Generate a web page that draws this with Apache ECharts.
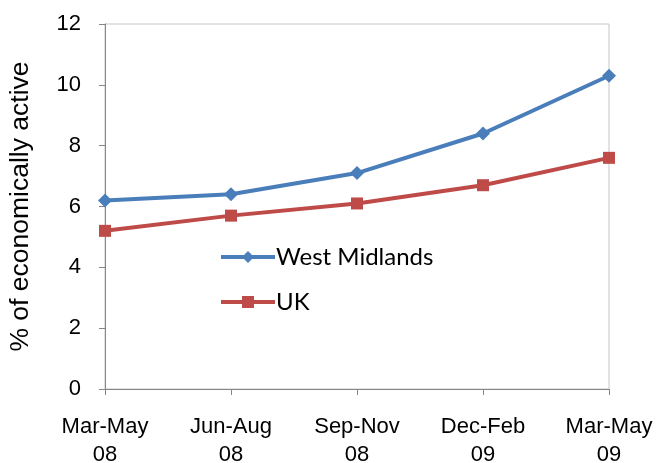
<!DOCTYPE html>
<html>
<head>
<meta charset="UTF-8">
<title></title>
<style>
html, body { margin: 0; padding: 0; background: #fff; }
#myChart { width: 663px; height: 463px; }
</style>
</head>
<body>
<div id="myChart"></div>
<script src="https://cdn.jsdelivr.net/npm/echarts@6/dist/echarts.min.js"></script>
<script>
var categories = ['Mar-May\n08', 'Jun-Aug\n08', 'Sep-Nov\n08', 'Dec-Feb\n09', 'Mar-May\n09'];
var westMidlands = [6.2, 6.4, 7.1, 8.4, 10.3];
var uk = [5.2, 5.7, 6.1, 6.7, 7.6];

var myChart = echarts.init(document.getElementById('myChart'));

myChart.setOption({
	animation: false,
	grid: {
		left: 105,
		right: 54,
		top: 24,
		bottom: 74,
		outerBoundsMode: 'none',
		containLabel: false,
		show: true,
		borderColor: '#c6c6c6',
		borderWidth: 1
	},
	legend: {
		orient: 'vertical',
		left: 214,
		top: 240,
		itemGap: 21,
		itemWidth: 54,
		itemHeight: 15,
		lineStyle: { width: 4 },
		textStyle: { fontFamily: 'Lato', fontSize: 24, color: '#000', padding: [0, 0, 0, -4] },
		data: ['West Midlands', 'UK']
	},
	xAxis: {
		type: 'category',
		boundaryGap: false,
		data: categories,
		axisLine: { lineStyle: { color: '#868686', width: 1 } },
		axisTick: { show: true, length: 6, lineStyle: { color: '#868686' } },
		axisLabel: {
			color: '#000',
			fontFamily: 'Liberation Sans',
			fontSize: 22,
			lineHeight: 28,
			margin: 24,
			interval: 0
		}
	},
	yAxis: {
		type: 'value',
		min: 0,
		max: 12,
		interval: 2,
		name: '% of economically active',
		nameLocation: 'middle',
		nameGap: 71,
		nameTextStyle: { fontFamily: 'Liberation Sans', fontSize: 26.5, color: '#000' },
		axisLine: { show: true, lineStyle: { color: '#868686', width: 1 } },
		axisTick: { show: true, length: 6, lineStyle: { color: '#868686' } },
		splitLine: { show: false },
		axisLabel: {
			color: '#000',
			fontFamily: 'Liberation Sans',
			fontSize: 22,
			margin: 24
		}
	},
	series: [{
		name: 'West Midlands',
		type: 'line',
		data: westMidlands,
		symbol: 'diamond',
		symbolSize: 14,
		lineStyle: { color: '#4a7ebb', width: 4 },
		itemStyle: { color: '#4a7ebb' }
	}, {
		name: 'UK',
		type: 'line',
		data: uk,
		symbol: 'rect',
		symbolSize: 12,
		lineStyle: { color: '#be4b48', width: 4 },
		itemStyle: { color: '#be4b48' }
	}]
});
</script>
</body>
</html>
